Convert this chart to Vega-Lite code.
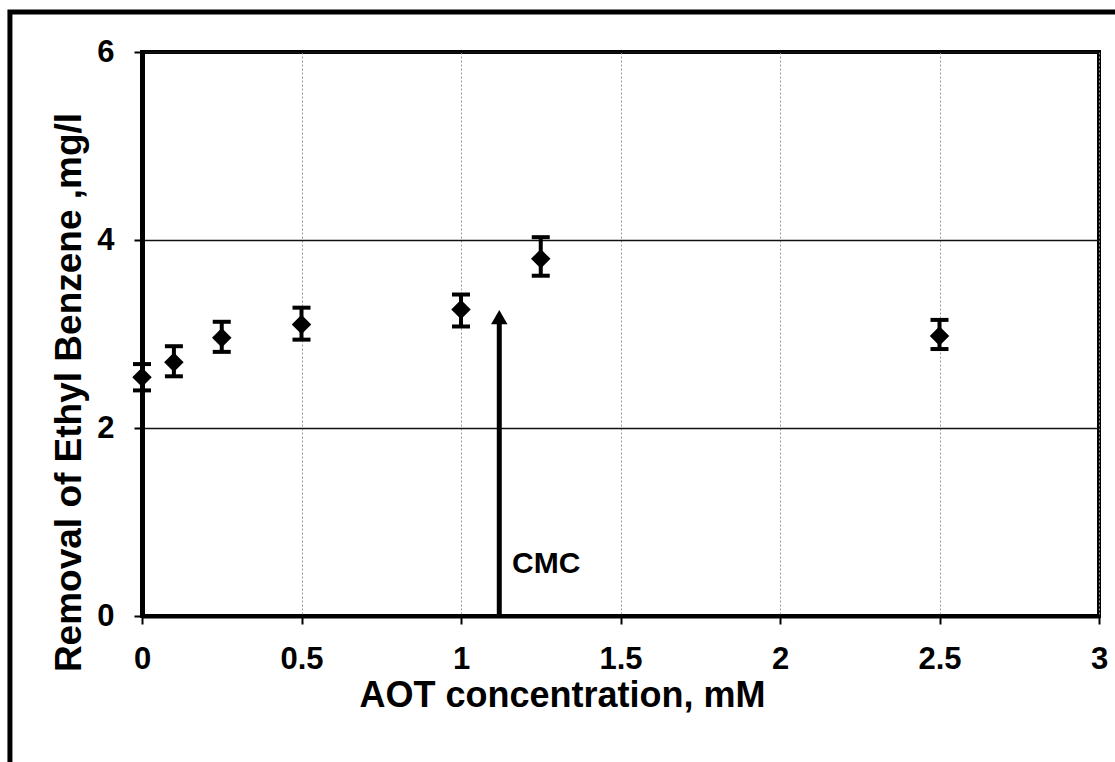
{
  "$schema": "https://vega.github.io/schema/vega-lite/v6.json",
  "width": 957,
  "height": 564,
  "autosize": {"type": "none"},
  "padding": {"left": 142, "top": 52, "right": 16, "bottom": 146},
  "background": "white",
  "config": {
    "view": {"stroke": "black", "strokeWidth": 4},
    "font": "Liberation Sans",
    "axis": {
      "labelFont": "Liberation Sans",
      "labelFontWeight": "bold",
      "labelColor": "black",
      "labelFontSize": 31,
      "titleFont": "Liberation Sans",
      "titleFontWeight": "bold",
      "titleColor": "black",
      "titleFontSize": 36,
      "domainColor": "black",
      "tickColor": "black",
      "tickWidth": 2,
      "tickSize": 8,
      "labelOverlap": false,
      "labelFlush": false
    }
  },
  "datasets": {
    "points": [
      {"conc": 0, "removal": 2.54, "lo": 2.40, "hi": 2.68},
      {"conc": 0.1, "removal": 2.70, "lo": 2.55, "hi": 2.87},
      {"conc": 0.25, "removal": 2.96, "lo": 2.81, "hi": 3.13},
      {"conc": 0.5, "removal": 3.10, "lo": 2.94, "hi": 3.28},
      {"conc": 1.0, "removal": 3.26, "lo": 3.08, "hi": 3.42},
      {"conc": 1.25, "removal": 3.80, "lo": 3.62, "hi": 4.03},
      {"conc": 2.5, "removal": 2.98, "lo": 2.84, "hi": 3.15}
    ],
    "arrow": [
      {"conc": 1.12, "base": 0, "top": 3.12, "head": 3.18}
    ],
    "note": [
      {"conc": 1.16, "removal": 0.46, "label": "CMC"}
    ]
  },
  "layer": [
    {
      "data": {"values": [{}]},
      "mark": {"type": "rect", "fillOpacity": 0, "stroke": "black", "strokeWidth": 5},
      "encoding": {
        "x": {
          "datum": -0.414,
          "type": "quantitative",
          "scale": {"domain": [0, 3], "nice": false, "zero": false},
          "axis": {
            "values": [0, 0.5, 1, 1.5, 2, 2.5, 3],
            "format": "~g",
            "grid": true,
            "gridColor": "#9a9a9a",
            "gridDash": [2, 2],
            "gridWidth": 1,
            "domainWidth": 4,
            "labelFontSize": 31,
            "labelPadding": 20,
            "title": "AOT concentration, mM",
            "titleFontSize": 36,
            "titleX": 420,
            "titleY": 90,
            "titleBaseline": "alphabetic",
            "titleAlign": "center"
          }
        },
        "x2": {"datum": 3.3},
        "y": {
          "datum": 6.426,
          "type": "quantitative",
          "scale": {"domain": [0, 6], "nice": false, "zero": false},
          "axis": {
            "values": [0, 2, 4, 6],
            "format": "~g",
            "grid": true,
            "gridColor": "#111111",
            "gridWidth": 1.5,
            "domainWidth": 5,
            "labelFontSize": 31,
            "labelPadding": 20,
            "title": "Removal of Ethyl Benzene ,mg/l",
            "titleFontSize": 37,
            "titleX": -62,
            "titleY": 340,
            "titleAngle": 270,
            "titleBaseline": "alphabetic",
            "titleAlign": "center"
          }
        },
        "y2": {"datum": -2.5}
      }
    },
    {
      "data": {"name": "points"},
      "mark": {"type": "rule", "color": "black", "strokeWidth": 4},
      "encoding": {
        "x": {"field": "conc", "type": "quantitative"},
        "y": {"field": "lo", "type": "quantitative"},
        "y2": {"field": "hi"}
      }
    },
    {
      "data": {"name": "points"},
      "mark": {"type": "tick", "orient": "horizontal", "color": "black", "size": 18, "thickness": 4, "opacity": 1},
      "encoding": {
        "x": {"field": "conc", "type": "quantitative"},
        "y": {"field": "lo", "type": "quantitative"}
      }
    },
    {
      "data": {"name": "points"},
      "mark": {"type": "tick", "orient": "horizontal", "color": "black", "size": 18, "thickness": 4, "opacity": 1},
      "encoding": {
        "x": {"field": "conc", "type": "quantitative"},
        "y": {"field": "hi", "type": "quantitative"}
      }
    },
    {
      "data": {"name": "points"},
      "mark": {"type": "point", "shape": "diamond", "filled": true, "color": "black", "size": 380, "opacity": 1},
      "encoding": {
        "x": {"field": "conc", "type": "quantitative"},
        "y": {"field": "removal", "type": "quantitative"}
      }
    },
    {
      "data": {"name": "arrow"},
      "mark": {"type": "rule", "color": "black", "strokeWidth": 5},
      "encoding": {
        "x": {"field": "conc", "type": "quantitative"},
        "y": {"field": "base", "type": "quantitative"},
        "y2": {"field": "top"}
      }
    },
    {
      "data": {"name": "arrow"},
      "mark": {"type": "point", "shape": "triangle-up", "filled": true, "color": "black", "size": 270, "opacity": 1},
      "encoding": {
        "x": {"field": "conc", "type": "quantitative"},
        "y": {"field": "head", "type": "quantitative"}
      }
    },
    {
      "data": {"name": "note"},
      "mark": {"type": "text", "align": "left", "baseline": "alphabetic", "font": "Liberation Sans", "fontWeight": "bold", "fontSize": 30, "color": "black"},
      "encoding": {
        "x": {"field": "conc", "type": "quantitative"},
        "y": {"field": "removal", "type": "quantitative"},
        "text": {"field": "label"}
      }
    }
  ]
}
